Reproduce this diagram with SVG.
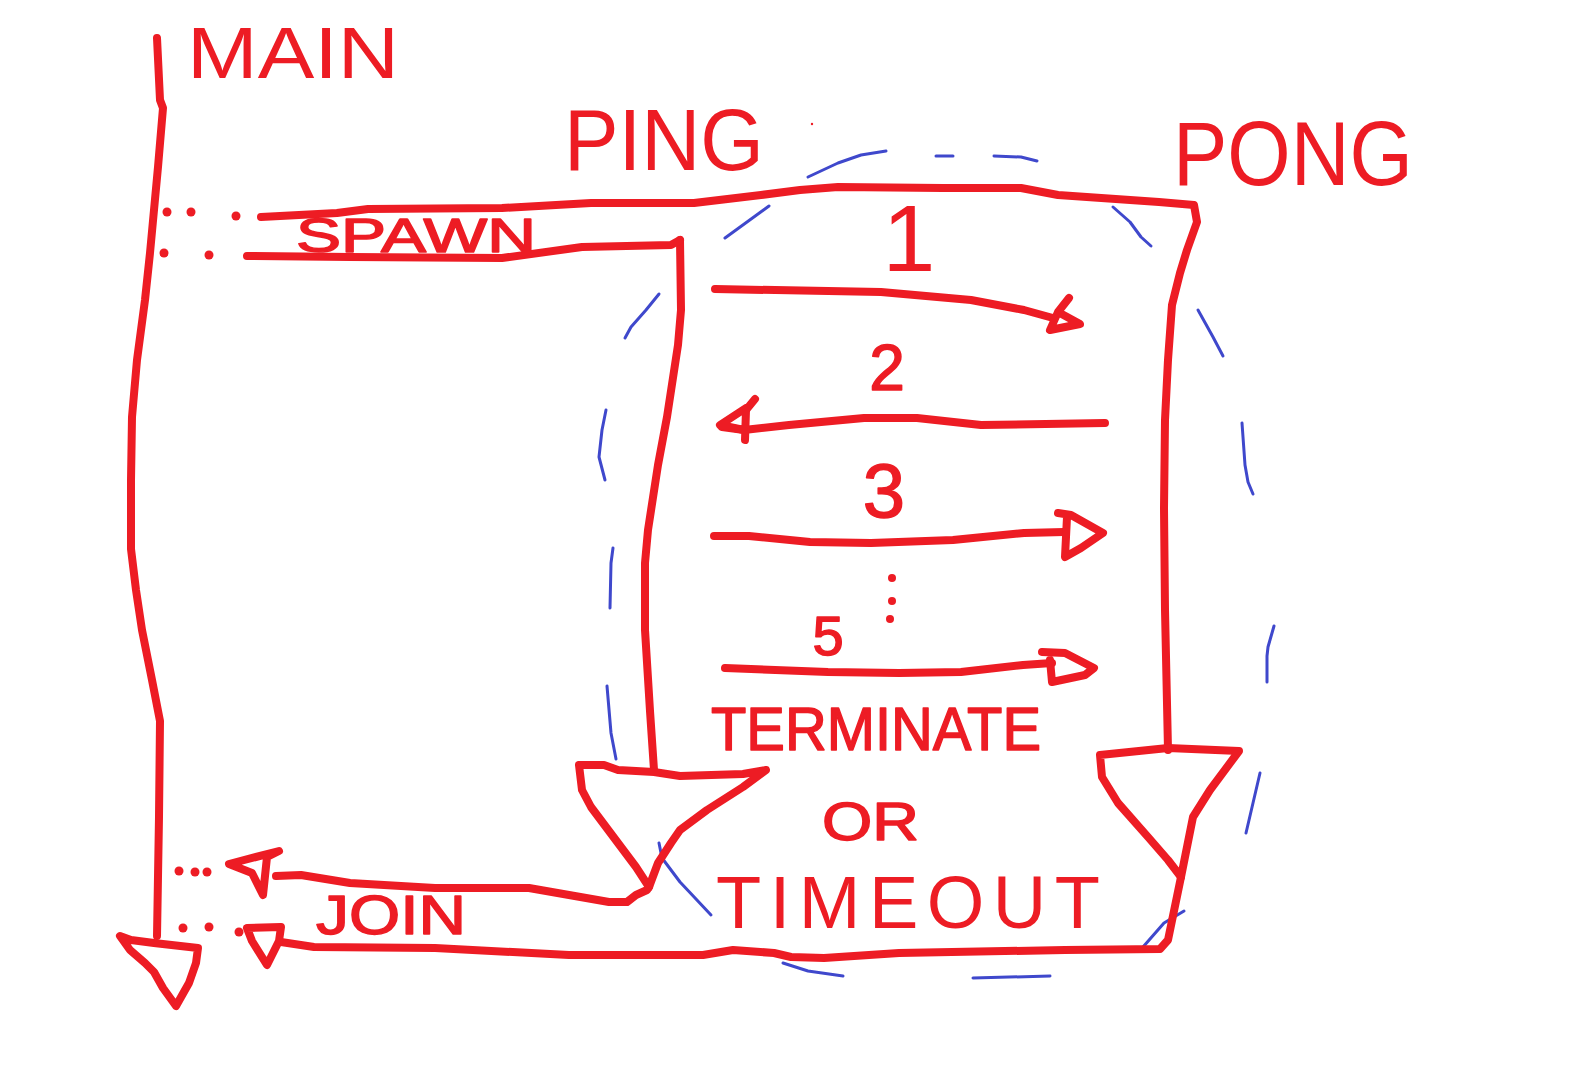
<svg xmlns="http://www.w3.org/2000/svg" width="1593" height="1066" viewBox="0 0 1593 1066">
<style>
.r{fill:none;stroke:#ED1C24;stroke-width:8;stroke-linecap:round;stroke-linejoin:round}
.b{fill:none;stroke:#3F48CC;stroke-width:3;stroke-linecap:round;stroke-linejoin:round}
.d{fill:#ED1C24}
.t{fill:#ED1C24;stroke:#ED1C24;stroke-width:1.5;stroke-linejoin:round;font-family:"Liberation Sans",Arial,sans-serif}
.big{stroke-width:0}
</style>
<rect width="1593" height="1066" fill="#fff"/>
<g id="pong-boundary">
<path class="b" d="M725,238 L769,206"/>
<path class="b" d="M808,177 L838,163 L861,155 L886,151"/>
<path class="b" d="M936,156 L953,156"/>
<path class="b" d="M994,156 L1021,157 L1037,161"/>
<path class="b" d="M1113,207 L1130,222 L1141,237 L1151,246"/>
<path class="b" d="M1198,310 L1213,337 L1223,356"/>
<path class="b" d="M1242,423 L1245,465 L1248,482 L1253,494"/>
<path class="b" d="M1274,626 L1268,647 L1267,656 L1267,682"/>
<path class="b" d="M1260,773 L1253,803 L1246,833"/>
<path class="b" d="M1184,911 L1164,923 L1143,947"/>
<path class="b" d="M973,978 L1050,976"/>
<path class="b" d="M783,963 L808,971 L843,976"/>
<path class="b" d="M659,843 L662,858 L680,882 L696,899 L711,915"/>
<path class="b" d="M607,686 L611,733 L616,759"/>
<path class="b" d="M613,548 L611,563 L610,608"/>
<path class="b" d="M606,410 L602,430 L599,457 L605,480"/>
<path class="b" d="M659,294 L646,310 L631,327 L625,338"/>
</g>
<g id="main">
<text class="t big" x="187" y="78" font-size="72" textLength="212" lengthAdjust="spacingAndGlyphs">MAIN</text>
<path class="r" d="M157,38 L160,100 L163,108 L158,167 L150,253 L145,300 L137,360 L132,417 L131,480 L131,549 L136,590 L142,630 L152,680 L160,721 L159,817 L157,936"/>
<path class="r" d="M120,936 L131,940 L154,943 L198,948 L196,963 L189,983 L176,1006 L163,988 L154,972 L145,963 L130,950 Z"/>
</g>
<g id="ping">
<text class="t big" x="564" y="170" font-size="88" textLength="200" lengthAdjust="spacingAndGlyphs">PING</text>
<path class="r" d="M680,240 L681,310 L678,345 L667,417 L658,465 L648,530 L645,563 L645,630 L650,711 L654,770"/>
<path class="r" d="M579,765 L604,765 L618,770 L654,772 L680,776 L743,774 L766,770 L743,787 L707,810 L680,830 L671,843 L658,863 L649,887 L636,867 L618,843 L591,807 L582,790 Z"/>
</g>
<g id="pong">
<text class="t big" x="1173" y="185" font-size="90" textLength="240" lengthAdjust="spacingAndGlyphs">PONG</text>
<path class="r" d="M1100,755 L1168,748 L1239,751 L1210,790 L1193,817 L1181,877 L1168,860 L1148,837 L1118,803 L1102,777 Z"/>
</g>
<g id="connectors">
<circle class="d" cx="167" cy="212" r="4.5"/><circle class="d" cx="191" cy="212" r="4.5"/><circle class="d" cx="236" cy="216" r="4.5"/>
<circle class="d" cx="164" cy="253" r="4.5"/><circle class="d" cx="209" cy="255" r="4.5"/>
<path class="r" d="M261,217 L337,213 L368,209 L502,208 L591,203 L694,203 L761,195 L800,190 L838,187 L943,188 L1021,188 L1058,195 L1159,202 L1194,205 L1197,222 L1187,250 L1180,273 L1172,305 L1168,360 L1165,420 L1164,508 L1165,610 L1168,750"/>
<path class="r" d="M247,256 L350,257 L502,258 L582,247 L671,245 L680,240"/>
<text class="t" x="296" y="252" font-size="48" textLength="240" lengthAdjust="spacingAndGlyphs">SPAWN</text>
<circle class="d" cx="812" cy="124" r="1.2"/>
<text class="t big" x="909" y="271" font-size="95" text-anchor="middle">1</text>
<path class="r" d="M715,289 L881,292 L971,300 L1024,310 L1053,318"/>
<path class="r" d="M1069,298 L1058,312 L1050,330 L1080,324 L1058,312"/>
<text class="t" x="887" y="390" font-size="64" text-anchor="middle">2</text>
<path class="r" d="M1105,423 L981,425 L917,418 L864,418 L789,425 L744,430 L722,427"/>
<path class="r" d="M755,399 L746,410 L745,440 M746,408 L720,425 L744,430"/>
<text class="t" x="884" y="517" font-size="76" text-anchor="middle">3</text>
<path class="r" d="M714,536 L749,536 L810,542 L871,543 L953,540 L1024,533 L1064,532"/>
<path class="r" d="M1058,513 L1071,515 L1103,533 L1081,548 L1065,557 L1067,517"/>
<circle class="d" cx="892" cy="578" r="4"/><circle class="d" cx="892" cy="601" r="4"/><circle class="d" cx="890" cy="619" r="4"/>
<text class="t" x="828" y="655" font-size="56" text-anchor="middle">5</text>
<path class="r" d="M725,668 L828,672 L899,673 L961,672 L1023,665 L1052,663"/>
<path class="r" d="M1042,652 L1065,653 L1094,668 L1085,675 L1052,682 L1050,660"/>
<text class="t" x="711" y="750" font-size="62" textLength="330" lengthAdjust="spacingAndGlyphs">TERMINATE</text>
<text class="t" x="822" y="840" font-size="54" textLength="97" lengthAdjust="spacingAndGlyphs">OR</text>
<text class="t big" x="716" y="928" font-size="74" textLength="384" lengthAdjust="spacing">TIMEOUT</text>
<path class="r" d="M649,887 L647,890 L636,895 L627,902 L609,902 L529,888 L435,888 L350,883 L301,875 L276,876"/>
<path class="r" d="M279,851 L229,864 L252,873 L263,895 L267,857 Z"/>
<circle class="d" cx="179" cy="871" r="4.5"/><circle class="d" cx="195" cy="872" r="4.5"/><circle class="d" cx="207" cy="872" r="4.5"/>
<text class="t" x="316" y="934" font-size="56" textLength="150" lengthAdjust="spacingAndGlyphs">JOIN</text>
<path class="r" d="M1181,877 L1168,940 L1160,949 L1065,950 L899,953 L824,958 L791,957 L774,953 L733,950 L703,955 L569,955 L435,948 L314,947 L281,942"/>
<path class="r" d="M247,928 L281,927 L279,941 L267,965 L252,941 Z"/>
<circle class="d" cx="183" cy="928" r="4.5"/><circle class="d" cx="209" cy="927" r="4.5"/><circle class="d" cx="239" cy="932" r="4.5"/>
</g>
</svg>
